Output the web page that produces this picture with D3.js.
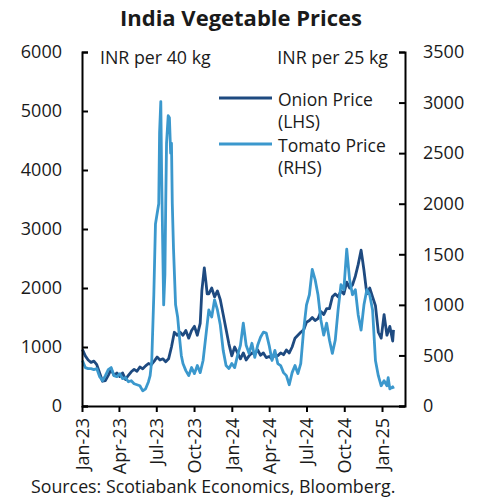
<!DOCTYPE html>
<html>
<head>
<meta charset="utf-8">
<script src="https://cdn.jsdelivr.net/npm/d3@7"></script>
<style>
  body { margin: 0; background: #fff; }
  text { font-family: "Open Sans", sans-serif; fill: #1a1a1a; }
</style>
</head>
<body>
<div id="chart"></div>
<script>
// Dates for the onion series (roughly weekly, extra points at the peaks)
var onionDates = ["2023-01-02","2023-01-09","2023-01-16","2023-01-23","2023-01-30","2023-02-06","2023-02-13","2023-02-20","2023-02-27","2023-03-06",
  "2023-03-13","2023-03-20","2023-03-27","2023-04-03","2023-04-10","2023-04-17","2023-04-24","2023-05-01","2023-05-08","2023-05-15",
  "2023-05-22","2023-05-29","2023-06-05","2023-06-12","2023-06-19","2023-06-26","2023-07-03","2023-07-10","2023-07-17","2023-07-24",
  "2023-07-31","2023-08-07","2023-08-14","2023-08-21","2023-08-28","2023-09-04","2023-09-11","2023-09-18","2023-09-25","2023-10-02",
  "2023-10-09","2023-10-16","2023-10-20","2023-10-26","2023-10-30","2023-11-02","2023-11-06","2023-11-13","2023-11-20","2023-11-27","2023-12-04","2023-12-11",
  "2023-12-18","2023-12-25","2024-01-01","2024-01-08","2024-01-15","2024-01-22","2024-01-29","2024-02-05","2024-02-12","2024-02-19",
  "2024-02-26","2024-03-04","2024-03-11","2024-03-18","2024-03-25","2024-04-01","2024-04-08","2024-04-15","2024-04-22","2024-04-29",
  "2024-05-06","2024-05-13","2024-05-20","2024-05-27","2024-06-03","2024-06-10","2024-06-17","2024-06-24","2024-07-01","2024-07-08",
  "2024-07-15","2024-07-22","2024-07-29","2024-08-05","2024-08-12","2024-08-19","2024-08-26","2024-09-02","2024-09-09","2024-09-16",
  "2024-09-23","2024-09-30","2024-10-07","2024-10-14","2024-10-21","2024-10-28","2024-11-04","2024-11-11","2024-11-14","2024-11-18","2024-11-25",
  "2024-12-02","2024-12-09","2024-12-16","2024-12-23","2024-12-30","2025-01-06","2025-01-13","2025-01-20","2025-01-27","2025-01-29"];

// Onion price, INR per 40 kg (LHS)
var onionValues = [960,850,780,740,760,700,560,420,430,520,
  620,520,560,500,560,450,520,580,620,590,
  660,630,680,720,700,760,830,780,800,750,
  800,1000,1250,1200,1250,1200,1280,1150,1280,1350,
  1200,1400,1950,2340,2100,1900,1900,2000,1850,1950,1800,1550,
  1300,1050,850,1000,900,800,900,780,850,900,
  880,950,860,900,820,840,800,870,850,900,
  870,950,900,1000,1150,1200,1250,1290,1420,1450,
  1500,1450,1480,1600,1550,1650,1650,1850,1900,1850,
  1950,1900,2100,2000,2050,2200,2400,2640,2500,2300,1900,
  2000,1850,1700,1250,1150,1550,1200,1350,1100,1290];

// Tomato price, INR per 25 kg (RHS) - finer sampling through the July 2023 spike
var tomatoDates = ["2023-01-02","2023-01-09","2023-01-16","2023-01-23","2023-01-30","2023-02-06","2023-02-13","2023-02-20","2023-02-27","2023-03-06",
  "2023-03-13","2023-03-20","2023-03-27","2023-04-03","2023-04-10","2023-04-17","2023-04-24","2023-05-01","2023-05-08","2023-05-15",
  "2023-05-22","2023-05-29","2023-06-05","2023-06-12","2023-06-16","2023-06-20","2023-06-25","2023-06-29","2023-07-03","2023-07-07",
  "2023-07-09","2023-07-12","2023-07-14","2023-07-17","2023-07-19","2023-07-22","2023-07-24","2023-07-26","2023-07-30","2023-08-02",
  "2023-08-05","2023-08-07","2023-08-09","2023-08-12","2023-08-17","2023-08-22","2023-08-26","2023-08-31","2023-09-04","2023-09-11",
  "2023-09-18","2023-09-25","2023-10-02","2023-10-09","2023-10-16","2023-10-23","2023-10-30","2023-11-06","2023-11-13","2023-11-20",
  "2023-11-27","2023-12-04","2023-12-11","2023-12-18","2023-12-25","2024-01-01","2024-01-08","2024-01-15","2024-01-22","2024-01-29",
  "2024-02-05","2024-02-12","2024-02-19","2024-02-26","2024-03-04","2024-03-11","2024-03-18","2024-03-25","2024-04-01","2024-04-08",
  "2024-04-15","2024-04-22","2024-04-29","2024-05-06","2024-05-13","2024-05-20","2024-05-27","2024-06-03","2024-06-10","2024-06-17",
  "2024-06-24","2024-07-01","2024-07-08","2024-07-15","2024-07-22","2024-07-29","2024-08-05","2024-08-12","2024-08-19","2024-08-26",
  "2024-09-02","2024-09-09","2024-09-16","2024-09-23","2024-09-30","2024-10-07","2024-10-14","2024-10-21","2024-10-28","2024-11-04",
  "2024-11-11","2024-11-18","2024-11-25","2024-12-02","2024-12-09","2024-12-16","2024-12-23","2024-12-30","2025-01-06","2025-01-13",
  "2025-01-16","2025-01-20","2025-01-27","2025-01-29"];
var tomatoValues = [450,380,370,370,360,370,290,250,300,360,
  380,300,290,320,270,280,240,250,220,210,
  200,150,170,240,300,450,1100,1800,1900,2000,
  2700,3010,2300,1500,1000,1300,2000,2600,2870,2850,
  2500,2600,2000,1550,1000,880,700,500,420,350,
  300,380,320,400,330,450,700,950,880,1050,
  950,800,550,400,370,420,380,500,600,820,
  600,520,620,480,600,680,730,720,600,450,
  550,420,400,330,300,210,330,400,320,420,
  750,1000,1100,1350,1250,1100,850,700,820,650,
  520,650,950,1200,1150,1550,1250,1100,1150,900,
  750,1000,1150,1100,950,450,300,200,250,200,
  280,170,190,170];

var leftTicks = [0, 1000, 2000, 3000, 4000, 5000, 6000];
var rightTicks = [0, 500, 1000, 1500, 2000, 2500, 3000, 3500];
var xTicks = ["2023-01-01","2023-04-01","2023-07-01","2023-10-01","2024-01-01","2024-04-01","2024-07-01","2024-10-01","2025-01-01"];

var W = 485, H = 501;
var plotLeft = 82, plotRight = 405, plotTop = 52, plotBottom = 406;
var parse = d3.timeParse("%Y-%m-%d");

var svg = d3.select("#chart").append("svg")
    .attr("width", W)
    .attr("height", H);

var x = d3.scaleTime()
    .domain([parse("2023-01-01"), parse("2025-02-26")])
    .range([plotLeft, plotRight]);
var yL = d3.scaleLinear().domain([0, 6000]).range([plotBottom, plotTop]);
var yR = d3.scaleLinear().domain([0, 3500]).range([plotBottom, plotTop]);

// Title
svg.append("text")
    .attr("x", 241).attr("y", 26)
    .attr("text-anchor", "middle")
    .style("font-weight", "bold")
    .style("font-size", "22px")
    .text("India Vegetable Prices");

// Lines
var onion = onionDates.map(function(d, i) { return {date: parse(d), v: onionValues[i]}; });
var tomato = tomatoDates.map(function(d, i) { return {date: parse(d), v: tomatoValues[i]}; });

svg.append("path")
    .datum(onion)
    .attr("fill", "none")
    .attr("stroke", "#1e4a80")
    .attr("stroke-width", 2.8)
    .attr("stroke-linejoin", "round")
    .attr("d", d3.line().x(function(d) { return x(d.date); }).y(function(d) { return yL(d.v); }));

svg.append("path")
    .datum(tomato)
    .attr("fill", "none")
    .attr("stroke", "#3b98cd")
    .attr("stroke-width", 2.8)
    .attr("stroke-linejoin", "round")
    .attr("d", d3.line().x(function(d) { return x(d.date); }).y(function(d) { return yR(d.v); }));

// Axes
var gL = svg.append("g")
    .attr("transform", "translate(" + plotLeft + ",0)")
    .call(d3.axisLeft(yL).tickValues(leftTicks).tickSize(-6).tickPadding(20).tickFormat(d3.format("d")));
var gR = svg.append("g")
    .attr("transform", "translate(" + plotRight + ",0)")
    .call(d3.axisRight(yR).tickValues(rightTicks).tickSize(-6).tickPadding(18).tickFormat(d3.format("d")));
var gX = svg.append("g")
    .attr("transform", "translate(0," + plotBottom + ")")
    .call(d3.axisBottom(x).tickValues(xTicks.map(parse)).tickSize(6).tickSizeOuter(0).tickFormat(d3.timeFormat("%b-%y")));

gX.selectAll("text")
    .attr("transform", "rotate(-90)")
    .attr("text-anchor", "end")
    .attr("x", -12)
    .attr("y", 0)
    .attr("dy", "0.35em");

[gL, gR, gX].forEach(function(g) {
  g.selectAll("path, line").attr("stroke", "#000").attr("stroke-width", 2);
  g.selectAll("text").style("font-size", "18px").style("font-family", "Open Sans").attr("fill", "#1a1a1a");
});

// Unit labels
svg.append("text").attr("x", 100).attr("y", 64).style("font-size", "17.8px").text("INR per 40 kg");
svg.append("text").attr("x", 388).attr("y", 64).attr("text-anchor", "end").style("font-size", "17.8px").text("INR per 25 kg");

// Legend
var legend = [
  {label: ["Onion Price", "(LHS)"], color: "#1e4a80", y: 98},
  {label: ["Tomato Price", "(RHS)"], color: "#3b98cd", y: 144}
];
legend.forEach(function(l) {
  svg.append("line")
      .attr("x1", 219).attr("x2", 272)
      .attr("y1", l.y).attr("y2", l.y)
      .attr("stroke", l.color).attr("stroke-width", 2.8);
  svg.append("text").attr("x", 278).attr("y", l.y + 8).style("font-size", "17.5px").text(l.label[0]);
  svg.append("text").attr("x", 278).attr("y", l.y + 30).style("font-size", "17.5px").text(l.label[1]);
});

// Source
svg.append("text")
    .attr("x", 31).attr("y", 493)
    .style("font-size", "17.8px")
    .text("Sources: Scotiabank Economics, Bloomberg.");
</script>
</body>
</html>
